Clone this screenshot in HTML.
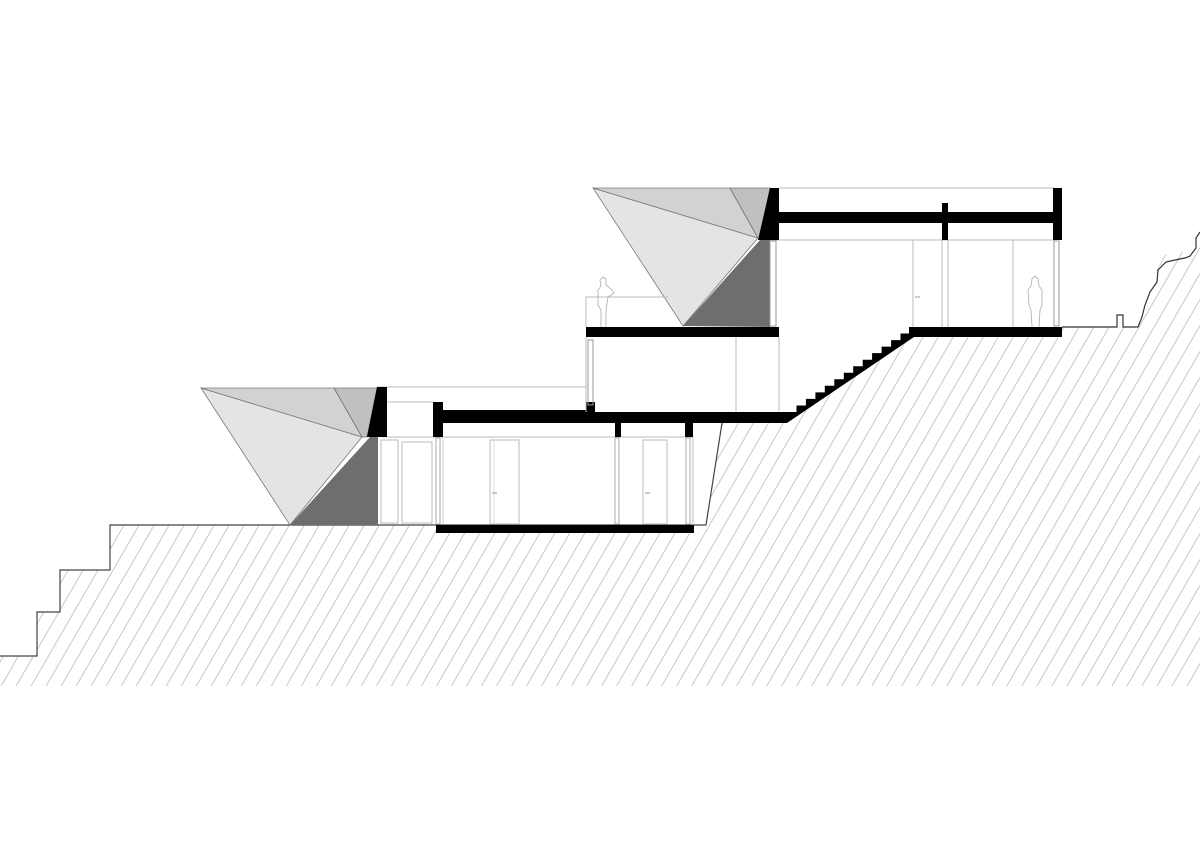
<!DOCTYPE html>
<html><head><meta charset="utf-8"><style>
html,body{margin:0;padding:0;background:#fff;}
svg{display:block;}
</style></head><body>
<svg width="1200" height="841" viewBox="0 0 1200 841" xmlns="http://www.w3.org/2000/svg">
<defs>
<pattern id="h" width="13" height="13" patternUnits="userSpaceOnUse" patternTransform="rotate(30)">
<line x1="6" y1="0" x2="6" y2="13" stroke="#c8c8c8" stroke-width="1"/>
</pattern>
</defs>
<rect width="1200" height="841" fill="#fff"/>
<polygon fill="url(#h)" points="0,656 37,656 37,612 60,612 60,570 110,570 110,525 706,525 722,423 787,423 912,337 1062,337 1062,327 1117,327 1117,315 1123,315 1123,327 1138,327 1145,305 1150,290 1157,270 1165,255 1180,252 1190,250 1195,240 1195,232 1200,228 1200,686 0,686"/>
<polyline fill="none" stroke="#444" stroke-width="1.2" points="0,656 37,656 37,612 60,612 60,570 110,570 110,525 706,525 722,423"/>
<polyline fill="none" stroke="#333" stroke-width="1.2" points="1062,327 1117,327 1117,315 1123,315 1123,327 1138,327 1142,317 1145,305 1150,292 1157,282 1158,270 1166,262 1175,260 1185,258 1190,256 1196,248 1196,238 1200,232"/>

<line x1="377" y1="387" x2="586" y2="387" stroke="#bbb"/>
<line x1="387" y1="402" x2="433" y2="402" stroke="#bbb"/>
<line x1="382" y1="437" x2="693" y2="437" stroke="#bbb"/>
<polygon points="201,388 362,437 290,525" fill="#e4e4e4" stroke="#777" stroke-width="0.8"/>
<polygon points="201,388 334,388 362,437" fill="#d2d2d2" stroke="#777" stroke-width="0.8"/>
<polygon points="334,388 377,388 367,437 362,437" fill="#c0c0c0" stroke="#777" stroke-width="0.8"/>
<polygon points="290,525 370,437 378,437 378,525" fill="#6e6e6e"/>
<polygon points="377,387 387,387 387,437 367,437" fill="#000"/>
<rect x="381" y="440" width="17" height="83" fill="none" stroke="#bbb"/>
<rect x="402" y="442" width="30" height="81" fill="none" stroke="#bbb"/>
<polygon points="433,402 443,402 443,410 586,410 586,402 595,402 595,412 787,412 787,423 443,423 443,437 433,437" fill="#000"/>
<rect x="615" y="423" width="6" height="14" fill="#000"/>
<rect x="685" y="423" width="8" height="14" fill="#000"/>
<rect x="436" y="525" width="258" height="8" fill="#000"/>
<rect x="436" y="438" width="4" height="86" fill="none" stroke="#aaa"/>
<line x1="443" y1="438" x2="443" y2="524" stroke="#ccc"/>
<rect x="490" y="440" width="29" height="84" fill="none" stroke="#bbb"/>
<line x1="494" y1="441" x2="494" y2="524" stroke="#ddd"/>
<rect x="615" y="438" width="4" height="86" fill="none" stroke="#aaa"/>
<rect x="643" y="440" width="24" height="84" fill="none" stroke="#bbb"/>
<rect x="686" y="438" width="4" height="86" fill="none" stroke="#aaa"/>
<line x1="693" y1="437" x2="693" y2="525" stroke="#bbb"/>
<line x1="492" y1="493" x2="497" y2="493" stroke="#999"/>
<line x1="645" y1="493" x2="650" y2="493" stroke="#999"/>

<line x1="586" y1="337" x2="586" y2="412" stroke="#bbb"/>
<rect x="588" y="340" width="5" height="65" fill="none" stroke="#999"/>
<line x1="736" y1="337" x2="736" y2="411" stroke="#bbb"/>
<line x1="779" y1="337" x2="779" y2="411" stroke="#bbb"/>
<polygon fill="#000" points="787,412 796.5,412 796.5,405.5 805.9,405.5 805.9,398.9 815.4,398.9 815.4,392.4 824.8,392.4 824.8,385.8 834.3,385.8 834.3,379.3 843.8,379.3 843.8,372.8 853.2,372.8 853.2,366.2 862.7,366.2 862.7,359.7 872.1,359.7 872.1,353.1 881.6,353.1 881.6,346.6 891.1,346.6 891.1,340.1 900.5,340.1 900.5,333.5 910,333.5 910,327 914,327 914,337 787,423"/>

<line x1="779" y1="188" x2="1055" y2="188" stroke="#bbb"/>
<line x1="760" y1="240" x2="1055" y2="240" stroke="#bbb"/>
<polygon points="593,188 758,238 683,326" fill="#e4e4e4" stroke="#777" stroke-width="0.8"/>
<polygon points="593,188 730,188 758,238" fill="#d2d2d2" stroke="#777" stroke-width="0.8"/>
<polygon points="730,188 770,188 760,238 758,238" fill="#c0c0c0" stroke="#777" stroke-width="0.8"/>
<polygon points="683,326 760,240 770,240 770,327" fill="#6e6e6e"/>
<polygon points="770,188 779,188 779,240 758,240" fill="#000"/>
<rect x="779" y="212" width="276" height="11" fill="#000"/>
<rect x="1053" y="188" width="9" height="52" fill="#000"/>
<rect x="942" y="203" width="6" height="37" fill="#000"/>
<rect x="586" y="327" width="193" height="10" fill="#000"/>
<rect x="909" y="327" width="153" height="10" fill="#000"/>
<polyline points="586,327 586,297 668,297" fill="none" stroke="#bbb"/>
<rect x="770" y="241" width="6" height="85" fill="none" stroke="#999"/>
<line x1="913" y1="240" x2="913" y2="327" stroke="#bbb"/>
<line x1="942" y1="240" x2="942" y2="327" stroke="#bbb"/>
<line x1="948" y1="240" x2="948" y2="327" stroke="#bbb"/>
<line x1="1013" y1="240" x2="1013" y2="327" stroke="#bbb"/>
<rect x="1054" y="241" width="5" height="85" fill="none" stroke="#999"/>
<line x1="915" y1="297" x2="920" y2="297" stroke="#999"/>
<path d="M601,327 L601,310 L598,305 L598,290 L601,286 L600,280 L603,277 L606,279 L606,285 L611,289 L614,293 L608,297 L606,310 L606,327" fill="none" stroke="#aaa" stroke-width="0.8"/>
<path d="M1032,327 L1031,310 L1029,305 L1028,290 L1031,286 L1032,279 L1035,276 L1038,279 L1039,286 L1042,290 L1042,305 L1040,310 L1039,327" fill="none" stroke="#aaa" stroke-width="0.8"/>
</svg>
</body></html>
